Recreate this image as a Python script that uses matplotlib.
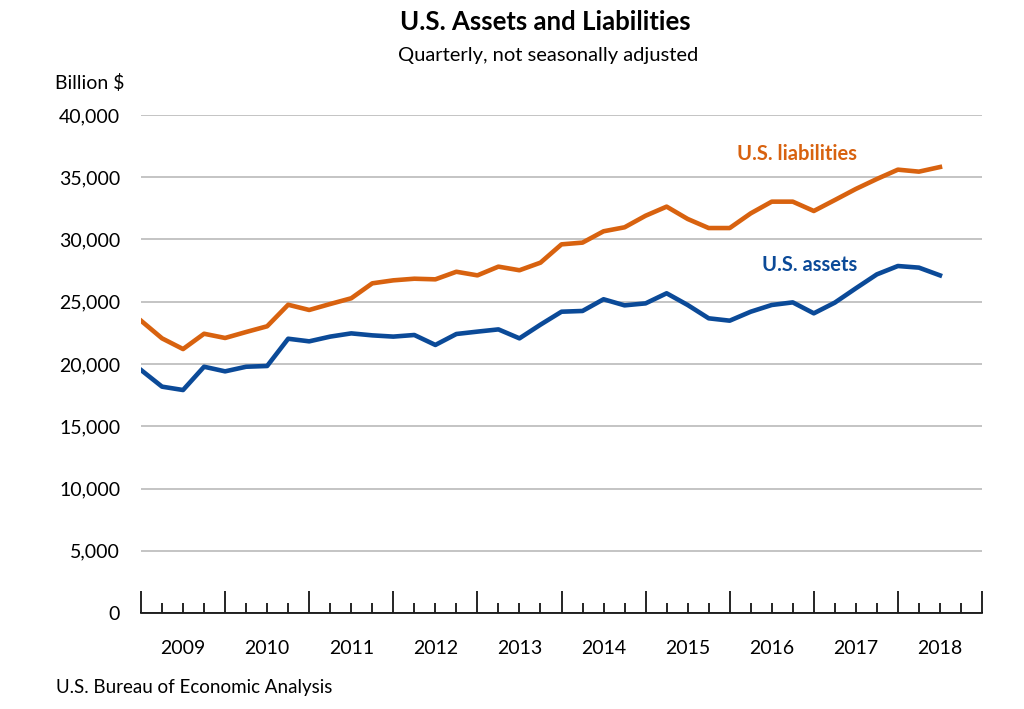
import numpy as np
import matplotlib.pyplot as plt
from matplotlib.transforms import blended_transform_factory

plt.rcParams['font.family'] = ['Lato', 'DejaVu Sans']

# quarterly values, billion $, 2009Q1 onward
years = ['2009', '2010', '2011', '2012', '2013', '2014', '2015', '2016', '2017', '2018']
liabilities = [23480, 22060, 21200, 22430, 22090, 22570, 23030, 24760, 24340, 24820,
               25280, 26480, 26720, 26850, 26800, 27410, 27120, 27820, 27530, 28140,
               29610, 29750, 30660, 30980, 31910, 32640, 31650, 30920, 30920, 32100,
               33040, 33040, 32290, 33170, 34060, 34860, 35610, 35450, 35820]
assets = [19520, 18180, 17910, 19780, 19410, 19780, 19840, 22030, 21820, 22200,
          22460, 22300, 22200, 22330, 21530, 22410, 22600, 22780, 22060, 23160,
          24200, 24260, 25200, 24710, 24870, 25680, 24740, 23670, 23480, 24200,
          24740, 24950, 24070, 24930, 26080, 27200, 27870, 27740, 27120]

orange = '#D8620F'
blue = '#0B4A98'

fig = plt.figure(figsize=(10.24, 7.09), dpi=100)
ax = fig.add_axes([141 / 1024, 96 / 709, 841 / 1024, 498 / 709])

x = np.arange(len(assets))
ax.plot(x, liabilities, color=orange, lw=3.3, solid_joinstyle='round')
ax.plot(x, assets, color=blue, lw=3.3, solid_joinstyle='round')

ax.set_xlim(0, 4 * len(years))
ax.set_ylim(0, 40000)
ax.set_yticks(np.arange(0, 40001, 5000))
ax.set_yticklabels([f'{v:,}' for v in range(0, 40001, 5000)], fontsize=14)
ax.yaxis.set_tick_params(length=0, pad=15)
ax.grid(axis='y', color='#BFBFBF', lw=1.3)
ax.set_axisbelow(True)

ax.set_xticks(np.arange(0, 4 * len(years) + 1, 4))
ax.set_xticks(np.arange(0, 4 * len(years) + 1, 1), minor=True)
ax.set_xticklabels([])
ax.tick_params(axis='x', which='major', direction='in', length=16, width=1.2, color='black')
ax.tick_params(axis='x', which='minor', direction='in', length=7, width=1.2, color='black')

for s in ['left', 'right', 'top']:
    ax.spines[s].set_visible(False)
ax.spines['bottom'].set_color('black')
ax.spines['bottom'].set_linewidth(1.2)

trans = blended_transform_factory(ax.transData, ax.transAxes)
for i, yr in enumerate(years):
    ax.text(4 * i + 2, -0.072, yr, transform=trans, ha='center', va='center', fontsize=14)

ax.text(31.2, 36870, 'U.S. liabilities', color=orange, fontsize=14.5,
        fontweight='bold', ha='center', va='center')
ax.text(31.8, 27950, 'U.S. assets', color=blue, fontsize=14.5,
        fontweight='bold', ha='center', va='center')

fig.text(545 / 1024, 1 - 22 / 709, 'U.S. Assets and Liabilities', fontsize=18.5,
         fontweight='bold', ha='center', va='center')
fig.text(548 / 1024, 1 - 55 / 709, 'Quarterly, not seasonally adjusted', fontsize=14.5,
         ha='center', va='center')
fig.text(55 / 1024, 1 - 83 / 709, 'Billion $', fontsize=14, ha='left', va='center')
fig.text(56 / 1024, 1 - 687 / 709, 'U.S. Bureau of Economic Analysis', fontsize=13.5,
         ha='left', va='center')

fig.savefig('out.png', dpi=100)
